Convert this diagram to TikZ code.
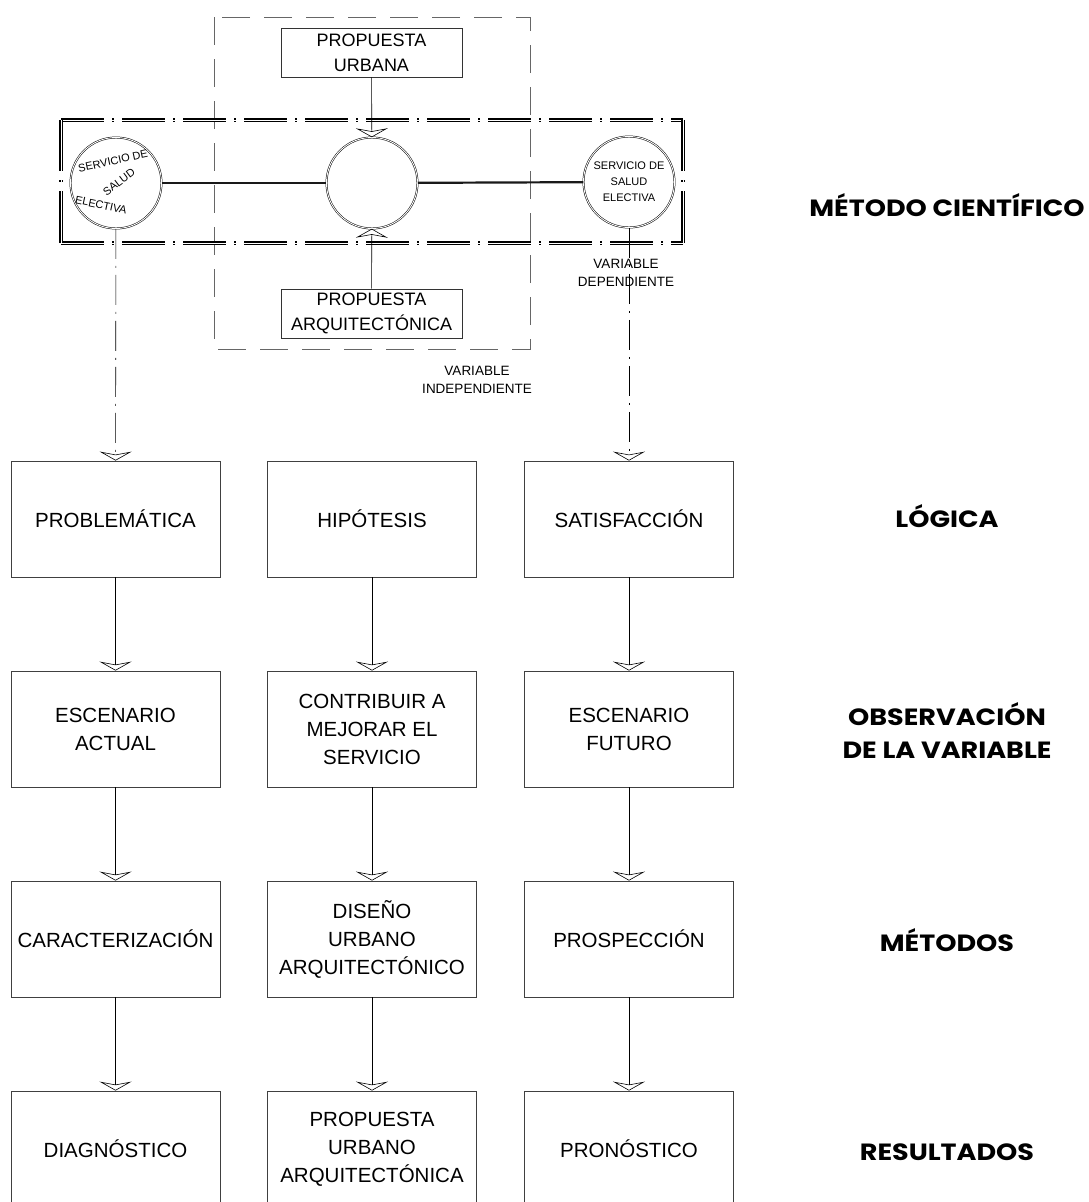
\documentclass[tikz,border=0pt]{standalone}
\usepackage{fontspec}
\setmainfont{Liberation Sans}
\newfontfamily\gothicfont{Poppins}[FakeStretch=1.15]
\usetikzlibrary{arrows.meta}
\tikzstyle{StepBox}=[rectangle, draw=black!75, line width=0.8pt, minimum width=209pt, minimum height=116pt, inner sep=0pt, align=center, font=\fontsize{20.5}{28}\selectfont]
\tikzstyle{PropBox}=[rectangle, draw=black!80, line width=0.8pt, minimum width=181pt, minimum height=49pt, inner sep=0pt, align=center, font=\fontsize{18}{25}\selectfont]
\tikzstyle{VarNode}=[circle, draw=black, line width=0.5pt, double, double distance=0.9pt, minimum size=91pt, inner sep=0pt, align=center, font=\fontsize{11}{16}\selectfont]
\tikzstyle{CurveText}=[inner sep=0pt, font=\fontsize{11}{13}\selectfont]
\tikzstyle{NoteText}=[align=center, inner sep=0pt, font=\fontsize{13.5}{18}\selectfont]
\tikzstyle{LevelText}=[align=center, inner sep=0pt, font=\gothicfont\bfseries\fontsize{23.5}{33}\selectfont]
\tikzstyle{FlowEdge}=[-{Stealth[open, length=9pt, width=32pt, inset=3pt]}, line width=0.6pt]
\tikzstyle{AxisEdge}=[FlowEdge, dash pattern=on 30pt off 7pt on 2pt off 7pt]
\tikzstyle{AxisLine}=[line width=2.2pt, black!90]
\tikzstyle{IndepFrame}=[draw=black!60, line width=0.8pt, dash pattern=on 28pt off 14pt]
\tikzstyle{HFrame}=[line width=1.5pt, double, double distance=0.9pt, dash pattern=on 43pt off 8pt on 2pt off 8pt]
\tikzstyle{VFrame}=[HFrame, dash pattern=on 51pt off 9pt on 2pt off 9pt on 60pt off 0pt]

\begin{document}
\begin{tikzpicture}[x=1pt, y=-1pt]
\useasboundingbox (0,0) rectangle (1089,1202);

\draw[IndepFrame] (214,17) rectangle (530,349);
\draw[HFrame] (61,120) -- (683,120);
\draw[HFrame] (61,243) -- (683,243);
\draw[VFrame] (61,120) -- (61,243);
\draw[VFrame] (683,120) -- (683,243);

\node[PropBox](Urbana) at (371.5,52.5) {PROPUESTA\\URBANA};
\node[PropBox](Arqui) at (371.5,313.5) {PROPUESTA\\ARQUITECTÓNICA};

\node[VarNode](Salud) at (116,183) {};
\node[VarNode](Centro) at (372,183) {};
\node[VarNode](Electiva) at (629,182) {SERVICIO DE\\SALUD\\ELECTIVA};
\node[CurveText, rotate=12](SaludA) at (113,161) {SERVICIO DE};
\node[CurveText, rotate=37](SaludB) at (119,182) {SALUD};
\node[CurveText, rotate=-12](SaludC) at (101,205) {ELECTIVA};

\node[NoteText](Dep) at (626,273) {VARIABLE\\DEPENDIENTE};
\node[NoteText](Indep) at (477,380) {VARIABLE\\INDEPENDIENTE};

\draw[AxisLine](Salud) -- (Centro);
\draw[AxisLine](Centro) -- (Electiva);
\draw[FlowEdge](Urbana) -- (Centro);
\draw[FlowEdge](Arqui) -- (Centro);

\node[StepBox](Problema) at (115.5,519) {PROBLEMÁTICA};
\node[StepBox](Hipotesis) at (372,519) {HIPÓTESIS};
\node[StepBox](Satisf) at (629,519) {SATISFACCIÓN};

\node[StepBox](Actual) at (115.5,729) {ESCENARIO\\ACTUAL};
\node[StepBox](Mejora) at (372,729) {CONTRIBUIR A\\MEJORAR EL\\SERVICIO};
\node[StepBox](Futuro) at (629,729) {ESCENARIO\\FUTURO};

\node[StepBox](Caract) at (115.5,939) {CARACTERIZACIÓN};
\node[StepBox](Diseno) at (372,939) {DISEÑO\\URBANO\\ARQUITECTÓNICO};
\node[StepBox](Prosp) at (629,939) {PROSPECCIÓN};

\node[StepBox](Diag) at (115.5,1149) {DIAGNÓSTICO};
\node[StepBox](PropUA) at (372,1149) {PROPUESTA\\URBANO\\ARQUITECTÓNICA};
\node[StepBox](Pron) at (629,1149) {PRONÓSTICO};

\draw[AxisEdge](Salud) -- (Problema);
\draw[AxisEdge](Electiva) -- (Satisf);

\draw[FlowEdge](Problema) -- (Actual);
\draw[FlowEdge](Hipotesis) -- (Mejora);
\draw[FlowEdge](Satisf) -- (Futuro);
\draw[FlowEdge](Actual) -- (Caract);
\draw[FlowEdge](Mejora) -- (Diseno);
\draw[FlowEdge](Futuro) -- (Prosp);
\draw[FlowEdge](Caract) -- (Diag);
\draw[FlowEdge](Diseno) -- (PropUA);
\draw[FlowEdge](Prosp) -- (Pron);

\node[LevelText](Metodo) at (947,205) {MÉTODO CIENTÍFICO};
\node[LevelText](Logica) at (947,516) {LÓGICA};
\node[LevelText](Observ) at (947,731) {OBSERVACIÓN\\DE LA VARIABLE};
\node[LevelText](Metodos) at (947,940) {MÉTODOS};
\node[LevelText](Result) at (947,1152) {RESULTADOS};

\end{tikzpicture}
\end{document}
